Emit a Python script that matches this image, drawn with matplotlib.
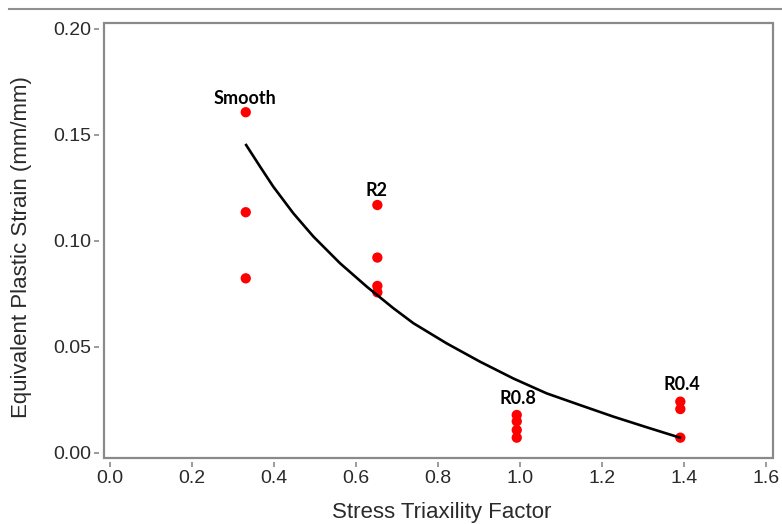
import matplotlib
matplotlib.use("Agg")
import matplotlib.pyplot as plt
from matplotlib.lines import Line2D
from matplotlib.patches import Rectangle

# measured fracture strain per notch geometry
smooth_x = [0.331, 0.331, 0.331]
smooth_y = [0.1607, 0.1135, 0.0823]
r2_x = [0.652, 0.652, 0.652, 0.652]
r2_y = [0.1169, 0.0921, 0.0787, 0.0757]
r08_x = [0.992, 0.992, 0.992, 0.992]
r08_y = [0.0178, 0.0148, 0.0107, 0.0071]
r04_x = [1.391, 1.391, 1.391]
r04_y = [0.0241, 0.0206, 0.0071]

# fitted curve
curve_x = [0.332, 0.366, 0.398, 0.447, 0.496, 0.561, 0.626, 0.691, 0.740,
           0.821, 0.902, 0.984, 1.065, 1.146, 1.228, 1.309, 1.390]
curve_y = [0.1452, 0.1350, 0.1256, 0.1130, 0.1020, 0.0894, 0.0784, 0.0682,
           0.0611, 0.0516, 0.0430, 0.0350, 0.0280, 0.0225, 0.0170, 0.0120, 0.0071]

labels = ["Smooth", "R2", "R0.8", "R0.4"]
label_x = [0.329, 0.651, 0.996, 1.394]
label_y = [0.1674, 0.1239, 0.0257, 0.0320]

x_ticks = [0.0, 0.2, 0.4, 0.6, 0.8, 1.0, 1.2, 1.4, 1.6]
y_ticks = [0.00, 0.05, 0.10, 0.15, 0.20]

GRAY = "#8a8a8a"
TXT = "#2a2a2a"

fig = plt.figure(figsize=(7.82, 5.24), dpi=100)
ax = fig.add_axes([0.1324, 0.1254, 0.8557, 0.8307])

ax.plot(curve_x, curve_y, color="black", lw=1.9, zorder=3)
for xs, ys in [(smooth_x, smooth_y), (r2_x, r2_y), (r08_x, r08_y), (r04_x, r04_y)]:
    ax.scatter(xs, ys, s=55, color="#ff0000", edgecolors="none", zorder=2)

for t, x, y in zip(labels, label_x, label_y):
    ax.text(x, y, t, ha="center", va="center", fontsize=13,
            fontweight="bold", family="Lato", color="black")

ax.set_xlim(-0.0159, 1.6163)
ax.set_ylim(-0.00264, 0.2028)
ax.set_xticks(x_ticks)
ax.set_xticklabels([f"{v:.1f}" for v in x_ticks])
ax.set_yticks(y_ticks)
ax.set_yticklabels([f"{v:.2f}" for v in y_ticks])

# ticks sit a little away from the frame, so move the axis lines out and draw the frame separately
for side in ["left", "bottom"]:
    ax.spines[side].set_position(("outward", 3))
    ax.spines[side].set_visible(False)
for side in ["right", "top"]:
    ax.spines[side].set_visible(False)
ax.add_patch(Rectangle((0, 0), 1, 1, transform=ax.transAxes, fill=False,
                       edgecolor=GRAY, lw=1.6, clip_on=False, zorder=5))

ax.tick_params(direction="out", length=3.5, width=1.2, color=GRAY,
               labelsize=14, labelcolor=TXT, pad=2)
for lab in ax.get_xticklabels() + ax.get_yticklabels():
    lab.set_family("Liberation Sans")

ax.set_xlabel("Stress Triaxility Factor", fontsize=16, color=TXT,
              family="Liberation Sans")
ax.set_ylabel("Equivalent Plastic Strain (mm/mm)", fontsize=16, color=TXT,
              family="Liberation Sans")
ax.xaxis.set_label_coords(0.506, -0.100)
ax.yaxis.set_label_coords(-0.107, 0.485)

# thin rule across the top of the screenshot
fig.add_artist(Line2D([0.012, 1.0], [1 - 8.5 / 524, 1 - 8.5 / 524],
                      color="#909090", lw=1.5))

fig.savefig("out.png", dpi=100)
